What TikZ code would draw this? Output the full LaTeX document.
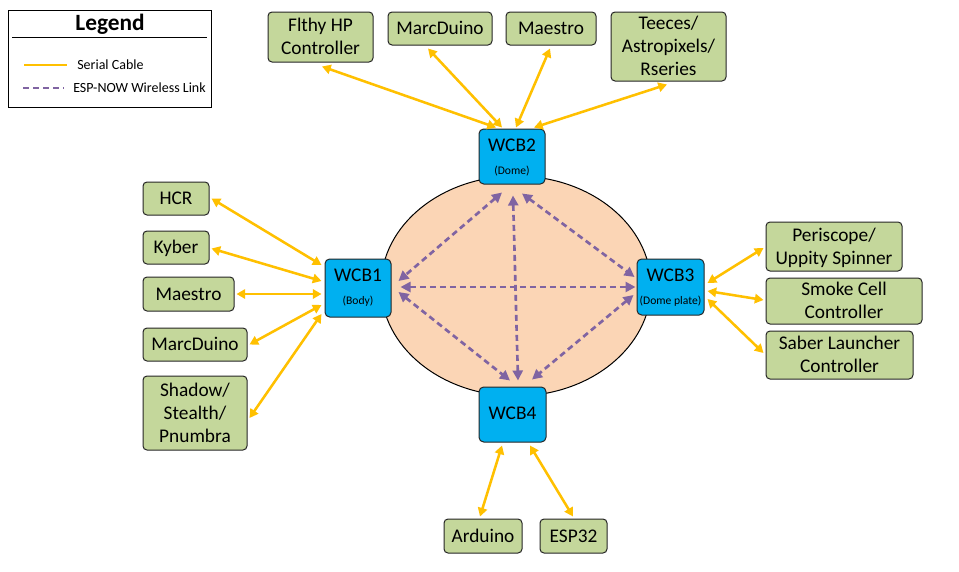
\documentclass[tikz,border=0pt]{standalone}
\usepackage{fontspec}
\setmainfont{Carlito}
\usetikzlibrary{arrows.meta,fit,calc}
\definecolor{serial}{HTML}{FFC000}
\definecolor{wireless}{HTML}{8064A2}
\definecolor{gfill}{HTML}{C4D79B}
\definecolor{wfill}{HTML}{00B0F0}
\definecolor{efill}{HTML}{FBD5B5}
\newcommand\bxstrut{\rule[-3.6pt]{0pt}{16.2pt}}
\begin{document}
\begin{tikzpicture}[x=0.75pt,y=-0.75pt,
  gbox/.style={draw=black!85, fill=gfill, rounded corners=3pt, inner sep=0pt, line width=0.75pt, align=center, font=\fontsize{14.5}{17.25}\selectfont},
  wbox/.style={draw=black!85, fill=wfill, rounded corners=3.5pt, inner sep=0pt, line width=0.75pt},
  wtitle/.style={inner sep=0pt, font=\fontsize{14.5}{17}\selectfont},
  wsub/.style={inner sep=0pt, font=\fontsize{8.7}{10}\selectfont},
  stip/.tip={Triangle[length=6.5pt,width=7pt]},
  ptip/.tip={Triangle[length=7.5pt,width=7.5pt]},
  serialln/.style={draw=serial, line width=1.9pt, stip-stip},
  wireln/.style={draw=wireless, line width=2pt, dash pattern=on 4.5pt off 3pt, ptip-ptip},
  legtext/.style={anchor=west, inner sep=0pt, font=\fontsize{10.5}{12}\selectfont},
]
\useasboundingbox (0,0) rectangle (959,571);
\fill[white] (0,0) rectangle (959,571);

% Legend
\node[draw=black, line width=0.75pt, inner sep=0pt, fit={(8,10)(211,107)}] (legend) {};
\node[inner sep=0pt, anchor=base, font=\fontsize{17.5}{20}\selectfont\bfseries] (legtitle) at (110,30) {Legend};
\draw[line width=0.75pt] (12,37) -- (207,37);
\coordinate (ls1) at (24,65); \coordinate (ls2) at (67,65);
\coordinate (lw1) at (23,88); \coordinate (lw2) at (64,88);
\draw[draw=serial, line width=1.9pt] (ls1) -- (ls2);
\draw[draw=wireless, line width=2pt, dash pattern=on 4.5pt off 3pt] (lw1) -- (lw2);
\node[legtext] (legserial) at (77,65) {Serial Cable};
\node[legtext] (legwireless) at (73,88) {ESP-NOW Wireless Link};

% Ellipse
\filldraw[fill=efill, draw=black, line width=0.75pt] (516,286) ellipse [x radius=135, y radius=110];

% WCB boxes
\node[wbox, fit={(479,129)(545,184)}] (wcb2) {};
\node[wbox, fit={(325,259)(391,317)}] (wcb1) {};
\node[wbox, fit={(637,259)(704,315)}] (wcb3) {};
\node[wbox, fit={(479,387)(546,442)}] (wcb4) {};
\node[wtitle] (wcb2t) at ($(wcb2.north)+(0,17)$) {WCB2};
\node[wsub] (wcb2s) at ($(wcb2.north)+(0,43)$) {(Dome)};
\node[wtitle] (wcb1t) at ($(wcb1.north)+(0,17)$) {WCB1};
\node[wsub] (wcb1s) at ($(wcb1.north)+(0,43)$) {(Body)};
\node[wtitle] (wcb3t) at ($(wcb3.north)+(0,17)$) {WCB3};
\node[wsub] (wcb3s) at ($(wcb3.north)+(0,43)$) {(Dome plate)};
\node[wtitle] (wcb4t) at ($(wcb4.center)+(0,-1)$) {WCB4};

% Top green boxes
\node[gbox, minimum width=78.75pt, minimum height=37.5pt] (flthy) at (320.5,37) {\bxstrut Flthy HP\\Controller\bxstrut};
\node[gbox, minimum width=78pt, minimum height=24.75pt] (marct) at (440,28.5) {\bxstrut MarcDuino};
\node[gbox, minimum width=67.5pt, minimum height=24.75pt] (maestrot) at (551,28.5) {\bxstrut Maestro};
\node[gbox, minimum width=86.25pt, minimum height=51.75pt] (teeces) at (668.5,46.5) {\bxstrut Teeces/\\Astropixels/\\Rseries\bxstrut};

% Left green boxes
\node[gbox, minimum width=49.5pt, minimum height=24.75pt] (hcr) at (176,198.5) {\bxstrut HCR};
\node[gbox, minimum width=49.5pt, minimum height=24.75pt] (kyber) at (176,247.5) {\bxstrut Kyber};
\node[gbox, minimum width=68.25pt, minimum height=25.5pt] (maestrol) at (188.5,294) {\bxstrut Maestro};
\node[gbox, minimum width=78pt, minimum height=24.75pt] (marcl) at (195,344.5) {\bxstrut MarcDuino};
\node[gbox, minimum width=78pt, minimum height=55.5pt] (shadow) at (195,413) {\bxstrut Shadow/\\Stealth/\\Pnumbra\bxstrut};

% Right green boxes
\node[gbox, minimum width=102pt, minimum height=36.75pt] (periscope) at (834,246.5) {\bxstrut Periscope/\\Uppity Spinner\bxstrut};
\node[gbox, minimum width=117pt, minimum height=34.5pt] (smoke) at (844,301) {\bxstrut Smoke Cell\\Controller\bxstrut};
\node[gbox, minimum width=110.25pt, minimum height=36pt] (saber) at (839.5,355) {\bxstrut Saber Launcher\\Controller\bxstrut};

% Bottom green boxes
\node[gbox, minimum width=58.5pt, minimum height=25.5pt] (arduino) at (483,536) {\bxstrut Arduino};
\node[gbox, minimum width=50.25pt, minimum height=25.5pt] (esp) at (573.5,536) {\bxstrut ESP32};

% Serial cables - top
\draw[serialln] ($(flthy.south)+(1.5,4)$) -- ($(wcb2.north)+(-16,-1)$);
\draw[serialln] ($(marct.south)+(-12,3)$) -- ($(wcb2.north)+(-10,-1)$);
\draw[serialln] ($(maestrot.south)+(-1,3)$) -- ($(wcb2.north)+(4,-1)$);
\draw[serialln] ($(teeces.south)+(-1.5,3)$) -- ($(wcb2.north)+(22,-1)$);

% Serial cables - left
\draw[serialln] ($(hcr.east)+(2,0)$) -- ($(wcb1.west)+(-3,-23)$);
\draw[serialln] ($(kyber.east)+(2,1)$) -- ($(wcb1.west)+(-3,-7)$);
\draw[serialln] ($(maestrol.east)+(2,0)$) -- ($(wcb1.west)+(-3,6)$);
\draw[serialln] ($(marcl.east)+(2,0)$) -- ($(wcb1.west)+(-3,17)$);
\draw[serialln] ($(shadow.east)+(2,5)$) -- ($(wcb1.west)+(-3,26)$);

% Serial cables - right
\draw[serialln] ($(wcb3.east)+(3,-4)$) -- ($(periscope.west)+(-2,1.5)$);
\draw[serialln] ($(wcb3.east)+(3,4)$) -- ($(smoke.west)+(-2,-1)$);
\draw[serialln] ($(wcb3.east)+(3,12)$) -- ($(saber.west)+(-2,-2)$);

% Serial cables - bottom
\draw[serialln] ($(wcb4.south)+(-10.5,3)$) -- ($(arduino.north)+(-3,-2)$);
\draw[serialln] ($(wcb4.south)+(17.5,3)$) -- ($(esp.north)+(-0.5,-2)$);

% Wireless links
\draw[wireln] ($(wcb2.south)+(-10,8)$) -- ($(wcb1.east)+(7,-7)$);
\draw[wireln] ($(wcb2.south)+(1,11)$) -- ($(wcb4.north)+(5.5,-6)$);
\draw[wireln] ($(wcb2.south)+(10,9)$) -- ($(wcb3.west)+(-2,-10)$);
\draw[wireln] ($(wcb1.east)+(9,-1)$) -- ($(wcb3.west)+(-1,0)$);
\draw[wireln] ($(wcb1.east)+(7,4)$) -- ($(wcb4.north)+(-2.5,-6)$);
\draw[wireln] ($(wcb3.west)+(-3,8)$) -- ($(wcb4.north)+(19.5,-7)$);
\end{tikzpicture}
\end{document}
